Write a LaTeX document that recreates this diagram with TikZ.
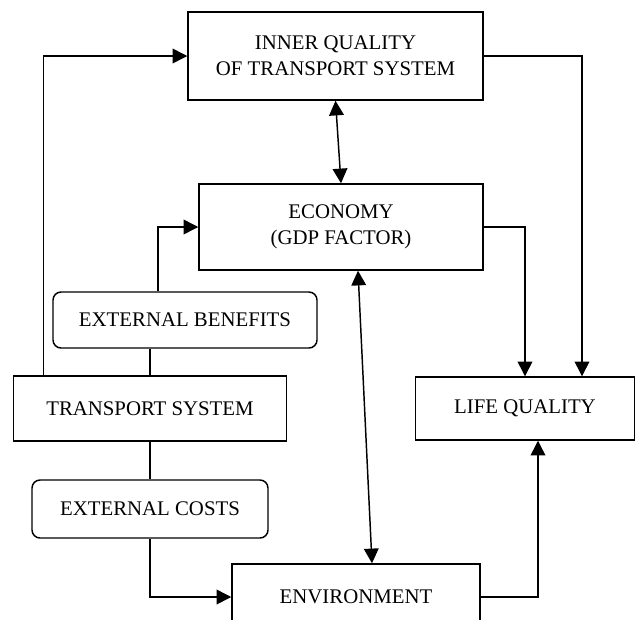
\documentclass[tikz,border=0pt]{standalone}
\usepackage{fontspec}
\setmainfont{Liberation Serif}
\usetikzlibrary{arrows.meta,calc}

\begin{document}
\begin{tikzpicture}[x=0.75pt,y=-0.75pt,>={Triangle[length=11pt,width=11pt]},
  line width=1.1pt,
  every node/.style={font=\fontsize{15.6}{19.5}\selectfont,align=center,inner sep=0pt},
  block/.style={draw,rectangle},
  effect/.style={draw,rectangle,rounded corners=6pt}]

\useasboundingbox (0,0) rectangle (636,619);

\node[block,minimum width=221.25pt,minimum height=66pt] (inner) at (335.5,56) {INNER QUALITY\\OF TRANSPORT SYSTEM};
\node[block,minimum width=213pt,minimum height=64.5pt] (econ) at (341,227) {ECONOMY\\(GDP FACTOR)};
\node[effect,minimum width=198pt,minimum height=42pt] (benef) at (185,320) {EXTERNAL BENEFITS};
\node[block,minimum width=204.75pt,minimum height=48.75pt] (trans) at (150,408.5) {TRANSPORT SYSTEM};
\node[effect,minimum width=177pt,minimum height=43.5pt] (costs) at (150,509) {EXTERNAL COSTS};
\node[block,minimum width=186pt,minimum height=49.5pt] (env) at (356,597) {ENVIRONMENT};
\node[block,minimum width=164.25pt,minimum height=47.25pt] (life) at (525,408.5) {LIFE QUALITY};

\draw[->] ($(trans.north west)+(30.5,0)$) |- (inner.west);
\draw[->] ($(benef.north)+(-27,0)$) |- (econ.west);
\draw (trans.north) -- (trans.north |- benef.south);
\draw (trans.south) -- (trans.south |- costs.north);
\draw[->] (costs.south) |- (env.west);
\draw[->] (env.east) -| ($(life.south)+(13,0)$);
\draw[->] (econ.east) -| (life.north);
\draw[->] (inner.east) -| ($(life.north)+(57,0)$);
\draw[<->] (inner.south) -- (econ.north);
\draw[<->] ($(econ.south)+(17,0)$) -- ($(env.north)+(16,0)$);

\end{tikzpicture}
\end{document}
